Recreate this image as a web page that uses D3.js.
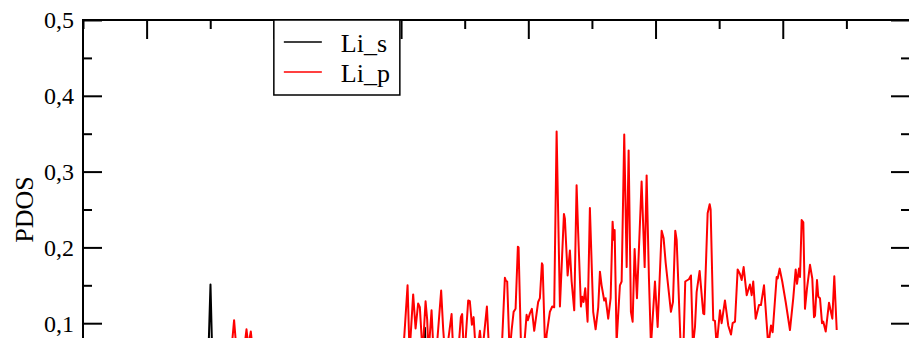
<!DOCTYPE html>
<html>
<head>
<meta charset="utf-8">
<script src="https://cdn.jsdelivr.net/npm/d3@7"></script>
<style>
    body { margin: 0; background: #fff; overflow: hidden; }
    svg { display: block; font-family: "Liberation Serif", "Times New Roman", serif; }
</style>
</head>
<body>
<svg id="drawing_region"></svg>
<script>
// series names + colours for the legend
const seriesNames = ['Li_s', 'Li_p'];
const seriesColors = ['#000000', '#ff0000'];

// [energy (eV), PDOS]
const liSPoints = [
    [-9.0, 0.0], [-8.2, 0.01], [-7.039, 0.03], [-6.996, 0.151], [-6.960, 0.03],
    [-5.592, 0.01], [-3.705, 0.03], [-3.626, 0.094], [-3.595, 0.03], [-2.447, 0.02], [2.848, 0.01]
];

const liPPoints = [
    [-7.164, 0.02], [-6.724, 0.04], [-6.661, 0.07], [-6.625, 0.104], [-6.583, 0.06], [-6.488, 0.05],
    [-6.430, 0.092], [-6.402, 0.07], [-6.362, 0.089], [-6.315, 0.05], [-5.592, 0.03], [-4.806, 0.04],
    [-4.051, 0.06], [-3.967, 0.06], [-3.898, 0.150], [-3.867, 0.06], [-3.810, 0.138], [-3.772, 0.093],
    [-3.732, 0.126], [-3.705, 0.121], [-3.662, 0.06], [-3.615, 0.129], [-3.590, 0.105], [-3.568, 0.06],
    [-3.521, 0.117], [-3.489, 0.06], [-3.437, 0.07], [-3.370, 0.143], [-3.338, 0.092], [-3.301, 0.05],
    [-3.206, 0.112], [-3.175, 0.05], [-3.103, 0.06], [-3.060, 0.108], [-3.040, 0.112], [-3.008, 0.05],
    [-2.945, 0.130], [-2.919, 0.129], [-2.887, 0.098], [-2.860, 0.108], [-2.824, 0.06], [-2.788, 0.07],
    [-2.761, 0.090], [-2.725, 0.06], [-2.651, 0.122], [-2.609, 0.05], [-2.525, 0.04], [-2.420, 0.06],
    [-2.368, 0.160], [-2.352, 0.156], [-2.332, 0.155], [-2.294, 0.06], [-2.263, 0.09], [-2.231, 0.115],
    [-2.200, 0.119], [-2.164, 0.201], [-2.153, 0.200], [-2.112, 0.06], [-2.065, 0.07], [-2.027, 0.111],
    [-2.007, 0.104], [-1.975, 0.113], [-1.944, 0.119], [-1.907, 0.090], [-1.845, 0.128], [-1.818, 0.133],
    [-1.786, 0.179], [-1.775, 0.177], [-1.734, 0.06], [-1.712, 0.085], [-1.661, 0.115], [-1.624, 0.122],
    [-1.593, 0.121], [-1.555, 0.353], [-1.503, 0.122], [-1.440, 0.244], [-1.425, 0.238], [-1.382, 0.163],
    [-1.346, 0.196], [-1.319, 0.155], [-1.278, 0.117], [-1.241, 0.282], [-1.216, 0.219], [-1.173, 0.122],
    [-1.153, 0.135], [-1.131, 0.128], [-1.105, 0.146], [-1.068, 0.102], [-1.032, 0.252], [-0.980, 0.115],
    [-0.942, 0.092], [-0.901, 0.121], [-0.874, 0.168], [-0.848, 0.150], [-0.807, 0.130], [-0.785, 0.133],
    [-0.744, 0.106], [-0.706, 0.133], [-0.675, 0.234], [-0.659, 0.210], [-0.643, 0.223], [-0.612, 0.075],
    [-0.560, 0.150], [-0.533, 0.155], [-0.492, 0.349], [-0.454, 0.174], [-0.423, 0.328], [-0.387, 0.115],
    [-0.360, 0.102], [-0.329, 0.198], [-0.292, 0.133], [-0.219, 0.287], [-0.171, 0.174], [-0.140, 0.295],
    [-0.104, 0.160], [-0.072, 0.07], [-0.009, 0.155], [0.033, 0.095], [0.096, 0.222], [0.127, 0.212],
    [0.159, 0.180], [0.242, 0.115], [0.274, 0.128], [0.310, 0.222], [0.332, 0.210], [0.357, 0.155],
    [0.399, 0.06], [0.436, 0.06], [0.467, 0.155], [0.505, 0.157], [0.525, 0.158], [0.557, 0.163],
    [0.588, 0.07], [0.620, 0.095], [0.646, 0.141], [0.693, 0.169], [0.750, 0.113], [0.766, 0.112],
    [0.819, 0.245], [0.851, 0.257], [0.866, 0.250], [0.907, 0.104], [0.934, 0.103], [0.961, 0.07],
    [1.013, 0.117], [1.039, 0.100], [1.091, 0.130], [1.143, 0.097], [1.186, 0.085], [1.212, 0.100],
    [1.249, 0.102], [1.291, 0.171], [1.327, 0.165], [1.354, 0.157], [1.385, 0.174], [1.433, 0.137],
    [1.484, 0.151], [1.511, 0.137], [1.536, 0.155], [1.574, 0.106], [1.626, 0.124], [1.657, 0.124],
    [1.705, 0.150], [1.772, 0.07], [1.815, 0.097], [1.841, 0.088], [1.904, 0.161], [1.920, 0.159],
    [1.951, 0.172], [1.992, 0.155], [2.046, 0.128], [2.113, 0.091], [2.165, 0.133], [2.203, 0.171],
    [2.224, 0.152], [2.255, 0.172], [2.271, 0.161], [2.297, 0.236], [2.323, 0.233], [2.349, 0.119],
    [2.381, 0.146], [2.428, 0.177], [2.464, 0.159], [2.491, 0.108], [2.507, 0.110], [2.538, 0.157],
    [2.558, 0.135], [2.585, 0.133], [2.617, 0.100], [2.637, 0.102], [2.675, 0.089], [2.727, 0.127],
    [2.779, 0.106], [2.810, 0.162], [2.848, 0.091]
];

const xDomain = [-9, 4];
const yDomain = [0, 0.5];
const yTicks = [0, 0.1, 0.2, 0.3, 0.4, 0.5];
const yLabel = 'PDOS';

class PdosChart {

    constructor(config, data) {
        this.config = {
            parent: config.parent,
            width: config.width || 909,
            height: config.height || 338,
            margin: config.margin || { top: 20, right: 0, bottom: 0, left: 83 }
        };
        this.data = data;
        this.init();
    }

    init() {
        let self = this;
        const m = self.config.margin;

        self.svg = d3.select(self.config.parent)
            .attr('width', self.config.width)
            .attr('height', self.config.height);
        self.chart = self.svg.append('g')
            .attr('transform', `translate(${m.left}, ${m.top})`);

        self.innerWidth = 827;   // right axis sits just past the window edge
        self.innerHeight = 379;  // bottom axis is cropped away

        self.xScale = d3.scaleLinear().domain(xDomain).range([0, self.innerWidth]);
        self.yScale = d3.scaleLinear().domain(yDomain).range([self.innerHeight, 0]);
    }

    update() {
        let self = this;
        const W = self.innerWidth, H = self.innerHeight;
        const comma = d => d3.format('.1f')(d).replace('.', ',');

        self.chart.append('clipPath').attr('id', 'plotclip')
            .append('rect').attr('width', W).attr('height', H);

        const line = d3.line()
            .x(d => self.xScale(d[0]))
            .y(d => self.yScale(d[1]));

        self.chart.selectAll('.series')
            .data(self.data)
            .enter()
            .append('path')
            .attr('class', 'series')
            .attr('clip-path', 'url(#plotclip)')
            .attr('d', d => line(d.points))
            .attr('fill', 'none')
            .attr('stroke', d => d.color)
            .attr('stroke-width', 2)
            .attr('stroke-linejoin', 'round');

        // ticks point inward on all four sides
        const majorX = d3.range(-8, 4.01, 2);
        const minorX = d3.range(-9, 4.01, 2);
        const minorY = d3.range(0.05, 0.5, 0.1);

        const styleAxis = g => {
            g.select('.domain').remove();
            g.selectAll('line').attr('stroke', '#000').attr('stroke-width', 2);
        };

        self.chart.append('g')
            .call(d3.axisBottom(self.xScale).tickValues(majorX).tickSize(19).tickFormat(''))
            .call(styleAxis);
        self.chart.append('g')
            .call(d3.axisBottom(self.xScale).tickValues(minorX).tickSize(9).tickFormat(''))
            .call(styleAxis);
        self.chart.append('g')
            .attr('transform', `translate(0, ${H})`)
            .call(d3.axisTop(self.xScale).tickValues(majorX).tickSize(19).tickFormat(''))
            .call(styleAxis);

        self.chart.append('g')
            .call(d3.axisRight(self.yScale).tickValues(yTicks).tickSize(19).tickFormat(''))
            .call(styleAxis);
        self.chart.append('g')
            .call(d3.axisRight(self.yScale).tickValues(minorY).tickSize(9).tickFormat(''))
            .call(styleAxis);
        self.chart.append('g')
            .attr('transform', `translate(${W}, 0)`)
            .call(d3.axisLeft(self.yScale).tickValues(yTicks).tickSize(19).tickFormat(''))
            .call(styleAxis);
        self.chart.append('g')
            .attr('transform', `translate(${W}, 0)`)
            .call(d3.axisLeft(self.yScale).tickValues(minorY).tickSize(9).tickFormat(''))
            .call(styleAxis);

        self.chart.append('g')
            .selectAll('text')
            .data(yTicks.filter(d => d > 0))
            .enter()
            .append('text')
            .attr('x', -9)
            .attr('y', d => self.yScale(d))
            .attr('dy', '0.35em')
            .attr('text-anchor', 'end')
            .style('font-size', '24px')
            .text(comma);

        self.chart.append('rect')
            .attr('width', W)
            .attr('height', H)
            .attr('fill', 'none')
            .attr('stroke', '#000')
            .attr('stroke-width', 2);

        self.svg.append('text')
            .attr('transform', `translate(33, ${self.config.margin.top + H / 2}) rotate(-90)`)
            .attr('text-anchor', 'middle')
            .style('font-size', '26px')
            .text(yLabel);

        // legend, top-left corner at (-6, 0.5)
        const legend = self.chart.append('g')
            .attr('transform', `translate(${self.xScale(-6)}, 0)`);
        legend.append('rect')
            .attr('width', 126)
            .attr('height', 75)
            .attr('fill', '#fff')
            .attr('stroke', '#000')
            .attr('stroke-width', 1.5);
        const items = legend.selectAll('.item')
            .data(self.data)
            .enter()
            .append('g')
            .attr('transform', (d, i) => `translate(0, ${22 + i * 30})`);
        items.append('line')
            .attr('x1', 10).attr('x2', 48)
            .attr('stroke', d => d.color)
            .attr('stroke-width', 1.5);
        items.append('text')
            .attr('x', 67)
            .attr('y', 10)
            .style('font-size', '26px')
            .text(d => d.name);
    }

}

const seriesData = [
    { name: seriesNames[0], color: seriesColors[0], points: liSPoints },
    { name: seriesNames[1], color: seriesColors[1], points: liPPoints }
];

const config = {
    parent: '#drawing_region',
    width: 909,
    height: 338,
    margin: { top: 20, right: 0, bottom: 0, left: 83 }
};
const pdos_chart = new PdosChart(config, seriesData);
pdos_chart.update();
</script>
</body>
</html>
